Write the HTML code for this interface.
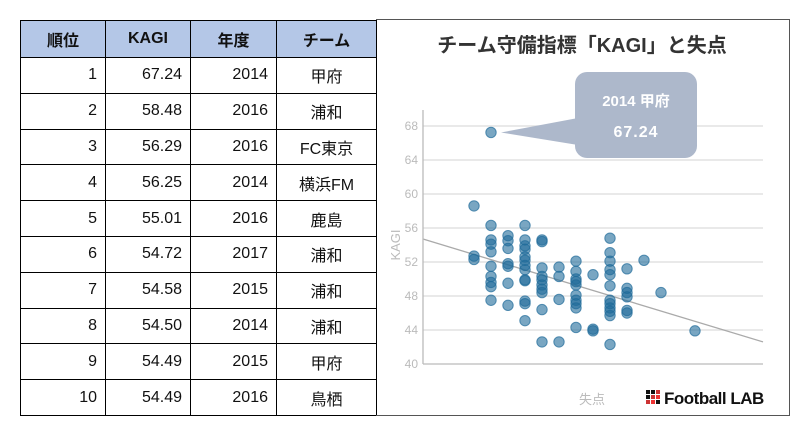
<!DOCTYPE html>
<html><head><meta charset="utf-8"><style>
body{margin:0;width:809px;height:437px;background:#fff;font-family:"Liberation Sans","Noto Sans CJK JP",sans-serif;position:relative;overflow:hidden}
table{position:absolute;left:20px;top:20px;border-collapse:collapse;font-size:16px;color:#111;table-layout:fixed}
td,th{border:1.3px solid #000;padding:0 8px;height:35.8px;box-sizing:border-box}
th{background:#b4c7e7;font-weight:bold;text-align:center;height:37px}
td.r{text-align:right}td.c{text-align:center}
#chart{position:absolute;left:376px;top:19px;width:414px;height:397px;border:1.3px solid #555;border-left:none;box-sizing:border-box}
</style></head><body>
<table>
<colgroup><col style="width:85px"><col style="width:85px"><col style="width:86px"><col style="width:100px"></colgroup>
<tr><th>順位</th><th>KAGI</th><th>年度</th><th>チーム</th></tr>
<tr><td class="r">1</td><td class="r">67.24</td><td class="r">2014</td><td class="c">甲府</td></tr>
<tr><td class="r">2</td><td class="r">58.48</td><td class="r">2016</td><td class="c">浦和</td></tr>
<tr><td class="r">3</td><td class="r">56.29</td><td class="r">2016</td><td class="c">FC東京</td></tr>
<tr><td class="r">4</td><td class="r">56.25</td><td class="r">2014</td><td class="c">横浜FM</td></tr>
<tr><td class="r">5</td><td class="r">55.01</td><td class="r">2016</td><td class="c">鹿島</td></tr>
<tr><td class="r">6</td><td class="r">54.72</td><td class="r">2017</td><td class="c">浦和</td></tr>
<tr><td class="r">7</td><td class="r">54.58</td><td class="r">2015</td><td class="c">浦和</td></tr>
<tr><td class="r">8</td><td class="r">54.50</td><td class="r">2014</td><td class="c">浦和</td></tr>
<tr><td class="r">9</td><td class="r">54.49</td><td class="r">2015</td><td class="c">甲府</td></tr>
<tr><td class="r">10</td><td class="r">54.49</td><td class="r">2016</td><td class="c">鳥栖</td></tr>
</table>
<div id="chart"></div>
<svg id="svg" width="809" height="437" style="position:absolute;left:0;top:0">
<text x="582" y="52" text-anchor="middle" font-size="20" font-weight="bold" fill="#333">チーム守備指標「KAGI」と失点</text>
<g id="grid"></g><g id="trend"></g><g id="pts"></g>
<line x1="423" y1="110" x2="423" y2="364" stroke="#bbb" stroke-width="1.3"/>
<line x1="423" y1="364" x2="763" y2="364" stroke="#bbb" stroke-width="1.3"/>
<text x="400" y="245" transform="rotate(-90 400 245)" text-anchor="middle" font-size="13" fill="#bbb">KAGI</text>
<text x="592" y="404" text-anchor="middle" font-size="13" fill="#bbb">失点</text>
<g id="callout"></g>
<g>
<rect x="646" y="390" width="4" height="4" fill="#111"/><rect x="651" y="390" width="4" height="4" fill="#111"/><rect x="656" y="390" width="4" height="4" fill="#c33"/>
<rect x="646" y="395" width="4" height="4" fill="#111"/><rect x="651" y="395" width="4" height="4" fill="#c33"/><rect x="656" y="395" width="4" height="4" fill="#e33"/>
<rect x="646" y="400" width="4" height="4" fill="#c33"/><rect x="651" y="400" width="4" height="4" fill="#e33"/><rect x="656" y="400" width="4" height="4" fill="#111"/>
<text x="664" y="404" font-size="17" font-weight="bold" fill="#111" letter-spacing="-0.5">Football LAB</text>
</g>
</svg>
<script>
const yTicks=[40,44,48,52,56,60,64,68];
const goals=[28,28,28,29,29,29,29,29,29,29,29,29,29,30,30,30,30,30,30,30,31,31,31,31,31,31,31,31,31,31,31,31,31,32,32,32,32,32,32,32,32,32,32,33,33,33,33,34,34,34,34,34,34,34,34,34,34,35,35,35,36,36,36,36,36,36,36,36,36,36,36,36,37,37,37,37,37,37,38,39,41];
const kagi=[58.6,52.7,52.3,67.24,56.3,54.6,54.1,53.2,51.5,50.3,49.6,49.1,47.5,55.1,54.5,53.6,51.8,51.5,49.5,46.9,56.3,54.6,53.9,53.5,52.6,52.2,51.6,51.1,49.9,49.8,47.4,47.1,45.1,54.6,54.4,51.3,50.3,49.9,49.3,48.8,48.4,46.4,42.6,51.4,50.3,47.6,42.6,52.1,50.9,50.0,49.7,49.3,48.1,47.5,47.1,46.6,44.3,50.5,44.1,43.9,54.8,53.1,52.1,51.1,50.5,49.2,47.5,47.1,46.6,46.2,45.7,42.3,51.2,48.9,48.4,47.9,46.3,46.0,52.2,48.4,43.9];
const trendX=[25,45];
const trendY=[54.7,42.6];
const callout=["2014 甲府","67.24"];
const NS="http://www.w3.org/2000/svg";
const X=v=>423+(v-25)*17, Y=v=>364-(v-40)*8.5;
function mk(t,a,p){const e=document.createElementNS(NS,t);for(const k in a)e.setAttribute(k,a[k]);p.appendChild(e);return e;}
const grid=document.getElementById('grid');
yTicks.forEach(t=>{
 if(t>40){const l=mk('line',{x1:423,x2:763,y1:Y(t),y2:Y(t),stroke:'#e2e2e2','stroke-width':1.5},grid);
 
 }
 const tx=mk('text',{x:418,y:Y(t)+4,'text-anchor':'end','font-size':12,fill:'#bbb'},grid);tx.textContent=t;
 
 
});
const tl=mk('line',{x1:X(trendX[0]),y1:Y(trendY[0]),x2:X(trendX[1]),y2:Y(trendY[1]),stroke:'#aaa','stroke-width':1.3},document.getElementById('trend'));


const pts=document.getElementById('pts');
goals.forEach((g,i)=>{
 const c=mk('circle',{cx:X(g),cy:Y(kagi[i]),r:5.2,fill:'#1f6b9a','fill-opacity':0.6,stroke:'#1f6b9a','stroke-opacity':0.7,'stroke-width':1},pts);
 
 
});
const co=document.getElementById('callout');
const px=X(goals[3]),py=Y(kagi[3]);
mk('polygon',{points:`${px+10},${py} 578,118 578,145`,fill:'#adb8cb'},co);
mk('rect',{x:575,y:72,width:122,height:86,rx:12,fill:'#adb8cb'},co);
const t1=mk('text',{x:636,y:106,'text-anchor':'middle','font-size':15,'font-weight':'bold',fill:'#fff'},co);t1.textContent=callout[0];
const t2=mk('text',{x:636,y:137,'text-anchor':'middle','font-size':16,'font-weight':'bold',fill:'#fff','letter-spacing':1},co);t2.textContent=callout[1];
</script>
</body></html>
